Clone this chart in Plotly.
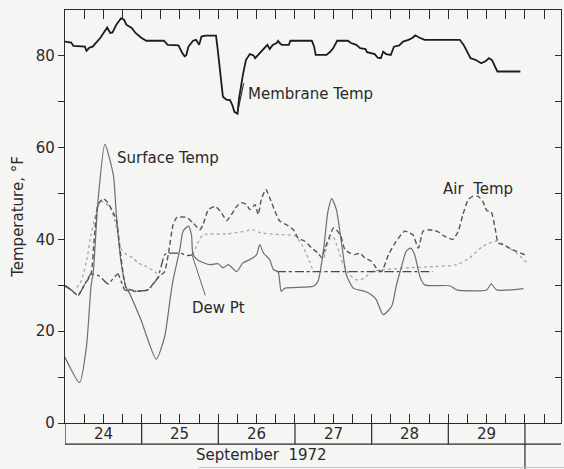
import plotly.graph_objects as go

# ---------------- data (x = day of September 1972, y = temperature °F) ----------------
mem_day = [24.0, 24.08, 24.11, 24.2, 24.26, 24.28, 24.32, 24.36, 24.46, 24.55, 24.59, 24.62, 24.67,
           24.73, 24.77, 24.80, 24.87, 24.92, 24.99, 25.06, 25.29, 25.34, 25.48, 25.53, 25.56, 25.58,
           25.61, 25.67, 25.71, 25.75, 25.78, 25.83, 25.97, 25.99, 26.03, 26.06, 26.11, 26.15, 26.18,
           26.21, 26.25, 26.27, 26.32, 26.36, 26.41, 26.46, 26.48, 26.53, 26.60, 26.64, 26.67, 26.71,
           26.76, 26.78, 26.80, 26.83, 26.92, 26.94, 27.22, 27.25, 27.27, 27.41, 27.46, 27.50, 27.55,
           27.69, 27.73, 27.80, 27.85, 27.92, 27.94, 28.04, 28.08, 28.12, 28.15, 28.19, 28.25, 28.29,
           28.36, 28.41, 28.48, 28.53, 28.57, 28.62, 28.69, 29.15, 29.20, 29.25, 29.29, 29.36, 29.43,
           29.49, 29.53, 29.57, 29.61, 29.64, 29.94]
mem_val = [83.1, 82.9, 82.2, 82.0, 82.0, 81.1, 81.8, 82.0, 83.9, 86.2, 85.0, 85.1, 86.8,
           88.2, 87.9, 86.8, 86.1, 85.0, 84.0, 83.3, 83.3, 82.4, 82.3, 80.6, 79.9, 80.1,
           82.0, 83.3, 83.5, 82.4, 84.2, 84.4, 84.4, 81.7, 75.1, 71.1, 70.4, 70.4, 69.4,
           67.8, 67.4, 70.7, 75.8, 79.1, 80.4, 80.1, 79.5, 80.4, 81.8, 82.4, 81.5, 82.4,
           82.8, 83.3, 82.8, 82.4, 82.4, 83.3, 83.3, 82.0, 80.2, 80.2, 80.9, 81.7, 83.3,
           83.3, 82.8, 82.4, 81.7, 81.5, 80.8, 80.4, 79.6, 79.5, 80.9, 80.4, 80.2, 82.0,
           82.3, 83.1, 83.5, 83.9, 84.5, 84.0, 83.5, 83.5, 82.4, 80.9, 79.5, 79.1, 78.4,
           78.9, 79.5, 79.1, 77.7, 76.6, 76.6]

surf_day = [24.0, 24.19, 24.28, 24.34, 24.37, 24.43, 24.52, 24.63, 24.67, 24.73, 24.80, 24.84, 24.99,
            25.19, 25.30, 25.37, 25.41, 25.50, 25.54, 25.61, 25.65, 25.67, 25.74, 25.89, 26.0, 26.06,
            26.13, 26.24, 26.32, 26.41, 26.50, 26.54, 26.59, 26.67, 26.72, 26.78, 26.82, 26.87, 27.24,
            27.30, 27.37, 27.43, 27.48, 27.54, 27.61, 27.67, 27.76, 27.91, 28.0, 28.06, 28.15, 28.26,
            28.32, 28.39, 28.45, 28.51, 28.56, 28.63, 28.69, 29.02, 29.11, 29.50, 29.56, 29.63, 29.98]
surf_val = [14.3, 8.8, 16.7, 29.8, 33.0, 48.3, 60.7, 54.1, 45.4, 35.2, 29.4, 28.3, 22.5,
            13.9, 18.8, 26.9, 31.2, 38.0, 41.8, 42.9, 41.0, 36.7, 35.4, 34.5, 34.7, 33.8,
            34.5, 33.0, 34.9, 35.6, 36.7, 38.9, 37.0, 35.6, 33.4, 33.0, 28.7, 29.4, 29.8,
            30.9, 37.4, 46.1, 48.9, 46.5, 38.9, 32.3, 29.4, 28.7, 27.9, 26.9, 23.6, 25.4,
            29.8, 34.1, 37.4, 38.1, 36.7, 31.9, 30.1, 29.9, 29.0, 29.0, 30.3, 29.0, 29.3]

air_day = [24.0, 24.08, 24.17, 24.25, 24.34, 24.38, 24.43, 24.50, 24.56, 24.63, 24.67, 24.71, 24.76,
           24.80, 24.95, 25.08, 25.21, 25.30, 25.35, 25.41, 25.46, 25.59, 25.67, 25.76, 25.80, 25.87,
           25.96, 26.04, 26.11, 26.17, 26.24, 26.30, 26.37, 26.41, 26.48, 26.52, 26.56, 26.62, 26.67,
           26.74, 26.80, 26.89, 26.98, 27.04, 27.13, 27.22, 27.30, 27.35, 27.39, 27.46, 27.50, 27.54,
           27.60, 27.65, 27.72, 27.78, 27.85, 27.91, 28.0, 28.06, 28.13, 28.22, 28.32, 28.43, 28.50,
           28.54, 28.61, 28.67, 28.74, 28.85, 28.95, 29.06, 29.13, 29.19, 29.26, 29.32, 29.39, 29.45,
           29.50, 29.56, 29.61, 29.65, 29.71, 29.80, 29.89, 30.02]
air_val = [29.8, 29.0, 27.8, 30.0, 32.5, 40.0, 47.6, 48.9, 48.0, 45.8, 44.3, 38.9, 32.3,
           29.4, 28.7, 29.0, 31.6, 33.0, 37.0, 43.2, 44.8, 44.8, 43.6, 42.1, 43.2, 46.5,
           47.2, 45.8, 44.1, 45.4, 47.2, 48.0, 47.6, 46.5, 47.6, 45.4, 48.7, 50.9, 49.1,
           46.1, 44.0, 43.2, 42.1, 40.3, 39.6, 38.1, 37.0, 36.0, 38.1, 41.0, 42.5, 42.1,
           40.7, 37.8, 37.0, 36.7, 37.0, 36.0, 35.2, 33.8, 33.0, 36.7, 39.6, 41.8, 41.4,
           41.0, 38.1, 41.8, 42.1, 41.8, 40.7, 40.0, 41.8, 45.4, 48.7, 49.4, 49.4, 48.3,
           46.3, 46.0, 42.5, 39.2, 38.9, 38.1, 37.4, 36.5]

dew_day = [24.0, 24.08, 24.17, 24.34, 24.45, 24.56, 24.69, 24.78, 24.95, 25.08, 25.21, 25.30, 25.35,
           25.50, 25.60, 25.67, None, 26.76, 27.2, 27.6, 28.0, 28.4, 28.8]
dew_val = [30.0, 29.0, 27.8, 32.5, 32.0, 30.3, 32.5, 29.0, 28.7, 29.0, 31.6, 36.7, 37.0,
           37.0, 36.5, 36.7, None, 33.0, 33.0, 33.0, 33.0, 33.0, 33.0]

dot_day = [24.15, 24.21, 24.28, 24.34, 24.40, 24.47, 24.58, 24.65, 24.69, 24.73, 24.80, 24.89, 24.95,
           25.06, 25.17, 25.23, None,
           25.67, 25.74, 25.80, 26.11, 26.32, 26.45, 26.54, 26.67, 26.87, 27.0, 27.09, 27.17, 27.24, None,
           27.38, 27.45, 27.50, 27.56, 27.62, 27.70, 27.80, 27.90, 28.0, 28.45, 28.85, 29.11, 29.28,
           29.45, 29.63, 29.89, 30.02]
dot_val = [29.5, 30.9, 35.2, 41.0, 45.4, 48.3, 47.2, 44.0, 41.0, 38.1, 36.7, 36.0, 34.9,
           34.1, 33.0, 31.9, None,
           36.7, 39.5, 41.0, 41.2, 41.7, 42.1, 41.5, 41.2, 41.0, 40.8, 38.9, 36.0, 33.0, None,
           36.0, 40.0, 40.5, 38.0, 35.0, 32.5, 31.2, 31.5, 33.0, 33.8, 34.1, 34.5, 36.0,
           38.5, 39.6, 37.0, 35.0]

day_labels = ["24", "25", "26", "27", "28", "29"]
y_ticks = [0, 10, 20, 30, 40, 50, 60, 70, 80]
y_ticktext = ["0", "", "20", "", "40", "", "60", "", "80"]

# ---------------- figure ----------------
FONT = "DejaVu Sans"
INK = "#2a2a2a"
BG = "#f5f5f3"

fig = go.Figure()
fig.add_trace(go.Scatter(x=dot_day, y=dot_val, mode="lines",
                         line=dict(color="#a8a8a8", width=1.3, dash="dot", shape="spline", smoothing=0.6),
                         connectgaps=False))
fig.add_trace(go.Scatter(x=dew_day, y=dew_val, mode="lines", name="Dew Pt",
                         line=dict(color="#4a4a4a", width=1.3, dash="dashdot", shape="spline", smoothing=0.4),
                         connectgaps=False))
fig.add_trace(go.Scatter(x=surf_day, y=surf_val, mode="lines", name="Surface Temp",
                         line=dict(color="#6e6e6e", width=1.2, shape="spline", smoothing=0.6)))
fig.add_trace(go.Scatter(x=air_day, y=air_val, mode="lines", name="Air Temp",
                         line=dict(color="#555555", width=1.4, dash="5px,3px", shape="spline", smoothing=0.5)))
fig.add_trace(go.Scatter(x=mem_day, y=mem_val, mode="lines", name="Membrane Temp",
                         line=dict(color="#1c1c1c", width=1.8)))
fig.add_trace(go.Scatter(x=[None], y=[None], yaxis="y2", showlegend=False, hoverinfo="skip"))

anns = [
    dict(text="Membrane Temp", x=26.36, y=71.6, xanchor="left", yanchor="middle"),
    dict(text="Surface Temp", x=24.65, y=57.7, xanchor="left", yanchor="middle"),
    dict(text="Air  Temp", x=28.91, y=51.1, xanchor="left", yanchor="middle"),
    dict(text="Dew Pt", x=25.63, y=25.0, xanchor="left", yanchor="middle"),
]
for a in anns:
    a.update(xref="x", yref="y", showarrow=False, font=dict(family=FONT, size=15, color=INK))
for i, lab in enumerate(day_labels):
    anns.append(dict(text=lab, x=24.5 + i, y=-0.026, xref="x", yref="paper", showarrow=False,
                     xanchor="center", yanchor="middle", font=dict(family=FONT, size=15, color=INK)))
anns.append(dict(text="September  1972", x=26.56, y=-0.078, xref="x", yref="paper", showarrow=False,
                 xanchor="center", yanchor="middle", font=dict(family=FONT, size=15, color=INK)))

shapes = [
    # leader lines
    dict(type="line", xref="x", yref="y", x0=26.25, y0=67.6, x1=26.33, y1=74.0,
         line=dict(color=INK, width=1.1)),
    dict(type="line", xref="x", yref="y", x0=25.66, y0=36.5, x1=25.83, y1=27.8,
         line=dict(color="#666", width=1.0)),
    # date strip below axis
    dict(type="line", xref="x", yref="paper", x0=24.0, y0=-0.051, x1=30.47, y1=-0.051,
         line=dict(color=INK, width=1.2)),
    dict(type="line", xref="x", yref="paper", x0=30.0, y0=0, x1=30.0, y1=-0.115,
         line=dict(color=INK, width=1.2)),
    dict(type="line", xref="paper", yref="paper", x0=0.27, y0=-0.108, x1=1.01, y1=-0.108,
         line=dict(color="#c4c4c4", width=1.0)),
]
for d in range(24, 30):
    shapes.append(dict(type="line", xref="x", yref="paper", x0=d, y0=0, x1=d, y1=-0.051,
                       line=dict(color=INK, width=1.2)))

fig.update_layout(
    width=564, height=469,
    margin=dict(l=65, r=3, t=10, b=46),
    paper_bgcolor=BG, plot_bgcolor=BG,
    showlegend=False,
    font=dict(family=FONT, size=15, color=INK),
    annotations=anns, shapes=shapes,
    xaxis=dict(range=[24.0, 30.47], showgrid=False, zeroline=False, showline=True,
               linecolor=INK, linewidth=1.2, mirror="allticks",
               ticks="inside", tick0=24, dtick=1, ticklen=9, tickcolor=INK, tickwidth=1.2,
               showticklabels=False,
               minor=dict(tick0=24, dtick=0.25, ticks="inside", ticklen=5, tickcolor=INK,
                          tickwidth=1.0, showgrid=False)),
    yaxis=dict(range=[0, 90], showgrid=False, zeroline=False, showline=True,
               linecolor=INK, linewidth=1.2, mirror=True,
               ticks="outside", tickvals=y_ticks, ticktext=y_ticktext, ticklen=6,
               tickcolor=INK, tickfont=dict(family=FONT, size=15, color=INK),
               title=dict(text="Temperature, °F", font=dict(family=FONT, size=15, color=INK),
                          standoff=8)),
    yaxis2=dict(range=[0, 90], overlaying="y", side="right", anchor="x", showgrid=False,
                zeroline=False, showline=False, ticks="inside", tickvals=y_ticks[1:],
                ticklen=6, tickcolor=INK, showticklabels=False),
)

fig.write_html("out.html")
